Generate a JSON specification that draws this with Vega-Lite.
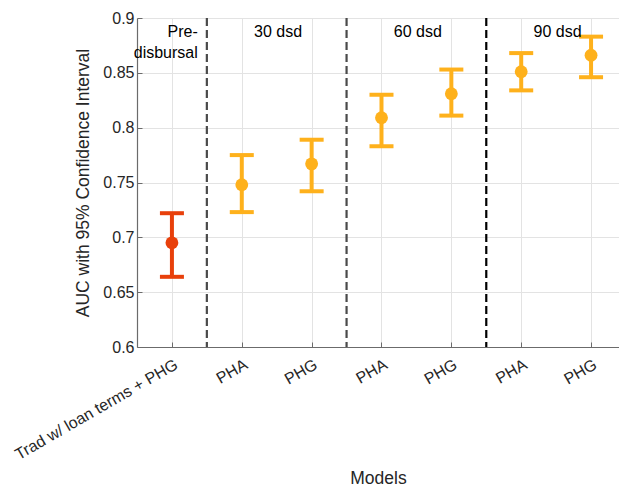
{
  "$schema": "https://vega.github.io/schema/vega-lite/v6.json",
  "width": 482,
  "height": 329,
  "autosize": {"type": "none"},
  "padding": {"left": 137, "top": 18, "right": 0, "bottom": 142},
  "background": "white",
  "config": {
    "view": {"stroke": null},
    "font": "Liberation Sans",
    "axis": {
      "grid": true,
      "gridColor": "#e3e3e3",
      "gridWidth": 1,
      "domainColor": "#6b6b6b",
      "domainWidth": 1.2,
      "tickColor": "#6b6b6b",
      "tickSize": -5,
      "labelColor": "#262626",
      "labelFontSize": 16,
      "labelLimit": 0,
      "titleColor": "#262626",
      "titleFontSize": 17.5,
      "titleFontWeight": "normal"
    },
    "axisX": {"labelAngle": -30, "labelPadding": 14, "titlePadding": 7},
    "axisY": {"labelPadding": 8, "titlePadding": 10}
  },
  "datasets": {
    "auc": [
      {"pos": 1, "model": "Trad w/ loan terms + PHG", "kind": "Traditional", "auc": 0.695, "lo": 0.664, "hi": 0.722},
      {"pos": 2, "model": "PHA", "kind": "Phone", "auc": 0.748, "lo": 0.723, "hi": 0.775},
      {"pos": 3, "model": "PHG", "kind": "Phone", "auc": 0.767, "lo": 0.742, "hi": 0.789},
      {"pos": 4, "model": "PHA", "kind": "Phone", "auc": 0.809, "lo": 0.783, "hi": 0.830},
      {"pos": 5, "model": "PHG", "kind": "Phone", "auc": 0.831, "lo": 0.811, "hi": 0.853},
      {"pos": 6, "model": "PHA", "kind": "Phone", "auc": 0.851, "lo": 0.834, "hi": 0.868},
      {"pos": 7, "model": "PHG", "kind": "Phone", "auc": 0.866, "lo": 0.846, "hi": 0.883}
    ],
    "boundaries": [
      {"pos": 1.5, "kind": "pre|30"},
      {"pos": 3.5, "kind": "30|60"},
      {"pos": 5.5, "kind": "60|90"}
    ],
    "periods": [
      {"pos": 1.37, "auc": 0.8825, "label": "Pre-\ndisbursal", "side": "left"},
      {"pos": 2.52, "auc": 0.8825, "label": "30 dsd", "side": "center"},
      {"pos": 4.52, "auc": 0.8825, "label": "60 dsd", "side": "center"},
      {"pos": 6.52, "auc": 0.8825, "label": "90 dsd", "side": "center"}
    ]
  },
  "encoding": {
    "x": {
      "field": "pos",
      "type": "quantitative",
      "title": "Models",
      "scale": {"domain": [0.5, 7.4], "nice": false, "zero": false},
      "axis": {
        "values": [1, 2, 3, 4, 5, 6, 7],
        "labelExpr": "['', 'Trad w/ loan terms + PHG', 'PHA', 'PHG', 'PHA', 'PHG', 'PHA', 'PHG'][datum.value]"
      }
    },
    "color": {
      "field": "kind",
      "type": "nominal",
      "scale": {
        "domain": ["Traditional", "Phone", "pre|30", "30|60", "60|90"],
        "range": ["#e8400b", "#feb11c", "#4a4a4a", "#4a4a4a", "#000000"]
      },
      "legend": null
    }
  },
  "layer": [
    {
      "data": {"name": "boundaries"},
      "mark": {"type": "rule", "strokeWidth": 2.2, "strokeDash": [8, 4]},
      "encoding": {}
    },
    {
      "data": {"name": "auc"},
      "mark": {"type": "rule", "strokeWidth": 4},
      "encoding": {
        "y": {
          "field": "lo",
          "type": "quantitative",
          "title": "AUC with 95% Confidence Interval",
          "scale": {"domain": [0.6, 0.9], "nice": false, "zero": false},
          "axis": {"values": [0.6, 0.65, 0.7, 0.75, 0.8, 0.85, 0.9], "format": ".2~f"}
        },
        "y2": {"field": "hi"}
      }
    },
    {
      "data": {"name": "auc"},
      "mark": {"type": "tick", "orient": "horizontal", "size": 24, "thickness": 4, "opacity": 1},
      "encoding": {
        "y": {"field": "hi", "type": "quantitative", "title": "AUC with 95% Confidence Interval"}
      }
    },
    {
      "data": {"name": "auc"},
      "mark": {"type": "tick", "orient": "horizontal", "size": 24, "thickness": 4, "opacity": 1},
      "encoding": {
        "y": {"field": "lo", "type": "quantitative", "title": "AUC with 95% Confidence Interval"}
      }
    },
    {
      "data": {"name": "auc"},
      "mark": {"type": "point", "shape": "circle", "filled": true, "size": 165, "opacity": 1},
      "encoding": {
        "y": {"field": "auc", "type": "quantitative", "title": "AUC with 95% Confidence Interval"}
      }
    },
    {
      "data": {"name": "periods"},
      "transform": [{"filter": "datum.side === 'left'"}],
      "mark": {"type": "text", "align": "right", "baseline": "alphabetic", "fontSize": 16, "color": "#000000", "lineBreak": "\n", "lineHeight": 21},
      "encoding": {
        "y": {"field": "auc", "type": "quantitative", "title": "AUC with 95% Confidence Interval"},
        "text": {"field": "label"},
        "color": {"value": "#000000"}
      }
    },
    {
      "data": {"name": "periods"},
      "transform": [{"filter": "datum.side === 'center'"}],
      "mark": {"type": "text", "align": "center", "baseline": "alphabetic", "fontSize": 16, "color": "#000000"},
      "encoding": {
        "y": {"field": "auc", "type": "quantitative", "title": "AUC with 95% Confidence Interval"},
        "text": {"field": "label"},
        "color": {"value": "#000000"}
      }
    }
  ]
}
